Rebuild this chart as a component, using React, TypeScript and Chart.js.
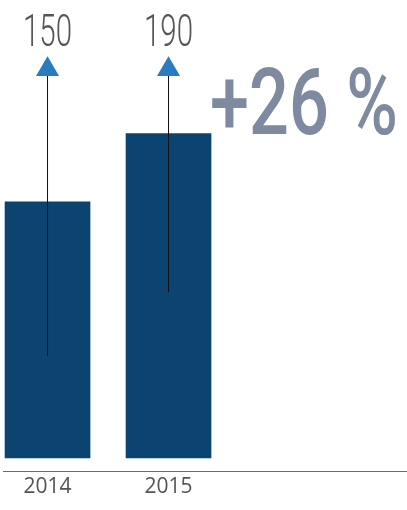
import { useEffect, useRef } from 'react';
import { Chart, registerables } from 'chart.js';

Chart.register(...registerables);

const YEARS = ['2014', '2015'];
const VALUES = [150, 190];
// arrows: black stem from base value up to the triangle head
const ARROW_BASE = [60, 97];
const ARROW_TOP = [227.5, 227.5];
const CHANGE_LABEL = '+26 %';

const BAR_COLOR = '#0b4470';
const ARROW_COLOR = '#2a7bbf';
const HEAD_RADIUS = 13.3;

// draws text squeezed horizontally, the reference uses a condensed face
function drawCondensed(ctx: CanvasRenderingContext2D, text: string, x: number, y: number, font: string, sx: number, color: string, align: 'left' | 'center') {
  ctx.save();
  ctx.font = font;
  ctx.fillStyle = color;
  ctx.textBaseline = 'alphabetic';
  ctx.textAlign = 'left';
  const w = ctx.measureText(text).width * sx;
  const left = align === 'center' ? x - w / 2 : x;
  ctx.translate(left, y);
  ctx.scale(sx, 1);
  ctx.fillText(text, 0, 0);
  ctx.restore();
}

const labelsPlugin = {
  id: 'valueLabels',
  afterDatasetsDraw(chart: any) {
    const ctx = chart.ctx;
    const heads = chart.getDatasetMeta(0).data;
    heads.forEach((pt: any, i: number) => {
      drawCondensed(ctx, String(VALUES[i]), pt.x, pt.y - HEAD_RADIUS - 10, '300 44px Roboto', 0.67, '#555555', 'center');
    });
    const bars = chart.getDatasetMeta(chart.data.datasets.length - 1).data;
    const b = bars[1];
    drawCondensed(ctx, CHANGE_LABEL, b.x + b.width / 2 - 1, b.y + 0.5, '500 93px Roboto', 0.755, '#7f8aa0', 'left');
  },
};

export default function App() {
  const canvasRef = useRef<HTMLCanvasElement>(null);
  const chartInstance = useRef<Chart | null>(null);

  useEffect(() => {
    if (!canvasRef.current) return;
    const ctx = canvasRef.current.getContext('2d');
    if (!ctx) return;

    const stems = ARROW_BASE.map((base, i) => ({
      type: 'line' as const,
      data: [{ x: i, y: base }, { x: i, y: ARROW_TOP[i] }],
      borderColor: '#111111',
      borderWidth: 1,
      pointRadius: 0,
      order: 1,
    }));

    chartInstance.current = new Chart(ctx, {
      type: 'bar',
      data: {
        datasets: [
          {
            type: 'line',
            data: ARROW_TOP.map((v, i) => ({ x: i, y: v })),
            showLine: false,
            pointStyle: 'triangle',
            pointRadius: HEAD_RADIUS,
            pointBackgroundColor: ARROW_COLOR,
            pointBorderWidth: 0,
            order: 0,
          } as any,
          ...stems,
          {
            type: 'bar',
            data: VALUES.map((v, i) => ({ x: i, y: v })),
            backgroundColor: BAR_COLOR,
            barThickness: 85,
            order: 2,
          } as any,
        ],
      },
      options: {
        animation: false,
        responsive: true,
        maintainAspectRatio: false,
        events: [],
        layout: { autoPadding: false, padding: { left: 3, right: 0, top: 10, bottom: 7.8 } },
        plugins: {
          legend: { display: false },
          tooltip: { enabled: false },
        },
        scales: {
          x: {
            type: 'linear',
            offset: false,
            min: -0.368,
            max: 2.971,
            grid: { display: false, drawTicks: false, offset: false },
            border: { display: true, color: '#6b6b6b', width: 1 },
            afterBuildTicks: (scale: any) => {
              scale.ticks = YEARS.map((_, i) => ({ value: i }));
            },
            ticks: {
              padding: 3,
              color: '#555555',
              font: { family: '"Open Sans"', size: 21 },
              callback: (v: any) => YEARS[v] ?? '',
            },
          },
          y: {
            display: false,
            min: -7.6,
            max: 262.3,
          },
        },
      },
      plugins: [labelsPlugin],
    } as any);

    return () => {
      chartInstance.current?.destroy();
    };
  }, []);

  return (
    <div style={{ position: 'absolute', left: 0, top: 0, width: 407, height: 510, background: '#ffffff' }}>
      <canvas ref={canvasRef}></canvas>
    </div>
  );
}
